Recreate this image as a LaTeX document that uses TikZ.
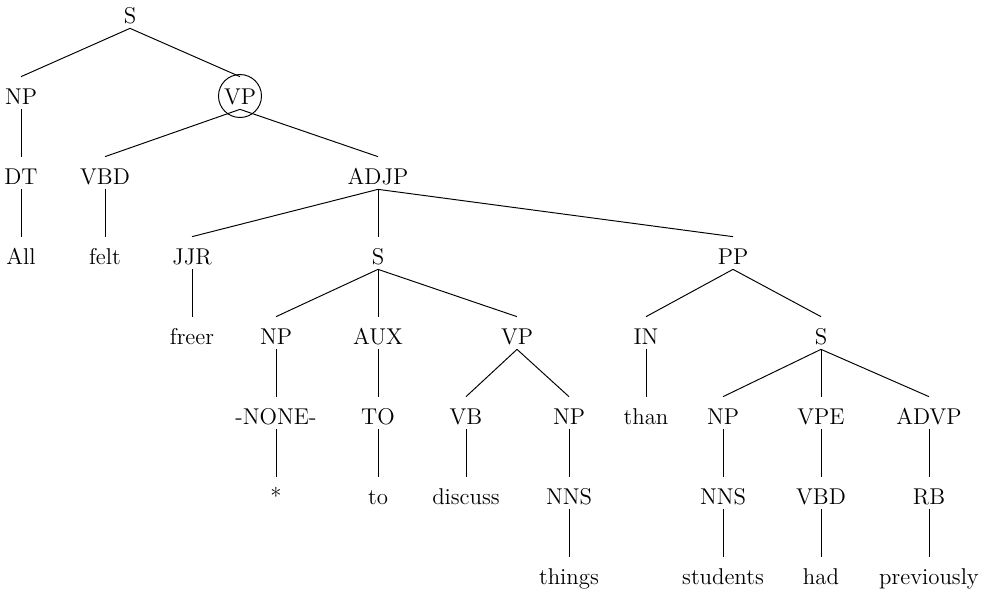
\documentclass[tikz,border=0pt]{standalone}
\usepackage{tikz}

\tikzset{
  lbl/.style={anchor=base, inner sep=0pt, text height=0.54cm, text depth=0.1cm,
    font=\fontsize{13}{16}\selectfont},
  edge/.style={line width=0.55pt}
}

\begin{document}
\begin{tikzpicture}[x=0.02cm, y=-0.02cm]
\useasboundingbox (0,0) rectangle (990,596);

\node[lbl] (s1) at (130,23) {S};

\node[lbl] (np1) at (21,104) {NP};
\node[lbl] (vp1) at (240,104) {VP};

\node[lbl] (dt) at (21,184) {DT};
\node[lbl] (vbd1) at (105,184) {VBD};
\node[lbl] (adjp) at (378,184) {ADJP};

\node[lbl] (all) at (21,264) {All};
\node[lbl] (felt) at (105,264) {felt};
\node[lbl] (jjr) at (192,264) {JJR};
\node[lbl] (s2) at (378,264) {S};
\node[lbl] (pp) at (733,264) {PP};

\node[lbl] (freer) at (192,344) {freer};
\node[lbl] (np2) at (276,344) {NP};
\node[lbl] (aux) at (378,344) {AUX};
\node[lbl] (vp2) at (517,344) {VP};
\node[lbl] (in) at (646,344) {IN};
\node[lbl] (s3) at (821,344) {S};

\node[lbl] (none) at (276,424) {-NONE-};
\node[lbl] (to) at (378,424) {TO};
\node[lbl] (vb) at (466,424) {VB};
\node[lbl] (np3) at (569,424) {NP};
\node[lbl] (than) at (646,424) {than};
\node[lbl] (np4) at (723,424) {NP};
\node[lbl] (vpe) at (821,424) {VPE};
\node[lbl] (advp) at (929,424) {ADVP};

\node[lbl] (star) at (276,504) {*};
\node[lbl] (toword) at (378,504) {to};
\node[lbl] (discuss) at (466,504) {discuss};
\node[lbl] (nns1) at (569,504) {NNS};
\node[lbl] (nns2) at (723,504) {NNS};
\node[lbl] (vbd2) at (821,504) {VBD};
\node[lbl] (rb) at (929,504) {RB};

\node[lbl] (things) at (569,584) {things};
\node[lbl] (students) at (723,584) {students};
\node[lbl] (had) at (821,584) {had};
\node[lbl] (previously) at (929,584) {previously};

\draw[edge] (s1.south) -- (np1.north);
\draw[edge] (s1.south) -- (vp1.north);
\draw[edge] (np1.south) -- (dt.north);
\draw[edge] (dt.south) -- (all.north);
\draw[edge] (vp1.south) -- (vbd1.north);
\draw[edge] (vp1.south) -- (adjp.north);
\draw[edge] (vbd1.south) -- (felt.north);

\draw[edge] (adjp.south) -- (jjr.north);
\draw[edge] (adjp.south) -- (s2.north);
\draw[edge] (adjp.south) -- (pp.north);
\draw[edge] (jjr.south) -- (freer.north);

\draw[edge] (s2.south) -- (np2.north);
\draw[edge] (s2.south) -- (aux.north);
\draw[edge] (s2.south) -- (vp2.north);
\draw[edge] (np2.south) -- (none.north);
\draw[edge] (none.south) -- (star.north);
\draw[edge] (aux.south) -- (to.north);
\draw[edge] (to.south) -- (toword.north);
\draw[edge] (vp2.south) -- (vb.north);
\draw[edge] (vp2.south) -- (np3.north);
\draw[edge] (vb.south) -- (discuss.north);
\draw[edge] (np3.south) -- (nns1.north);
\draw[edge] (nns1.south) -- (things.north);

\draw[edge] (pp.south) -- (in.north);
\draw[edge] (pp.south) -- (s3.north);
\draw[edge] (in.south) -- (than.north);
\draw[edge] (s3.south) -- (np4.north);
\draw[edge] (s3.south) -- (vpe.north);
\draw[edge] (s3.south) -- (advp.north);
\draw[edge] (np4.south) -- (nns2.north);
\draw[edge] (nns2.south) -- (students.north);
\draw[edge] (vpe.south) -- (vbd2.north);
\draw[edge] (vbd2.south) -- (had.north);
\draw[edge] (advp.south) -- (rb.north);
\draw[edge] (rb.south) -- (previously.north);

% ring round the upper VP
\draw[edge] ([yshift=-0.06cm]vp1.center) circle (0.43cm);
\end{tikzpicture}
\end{document}
